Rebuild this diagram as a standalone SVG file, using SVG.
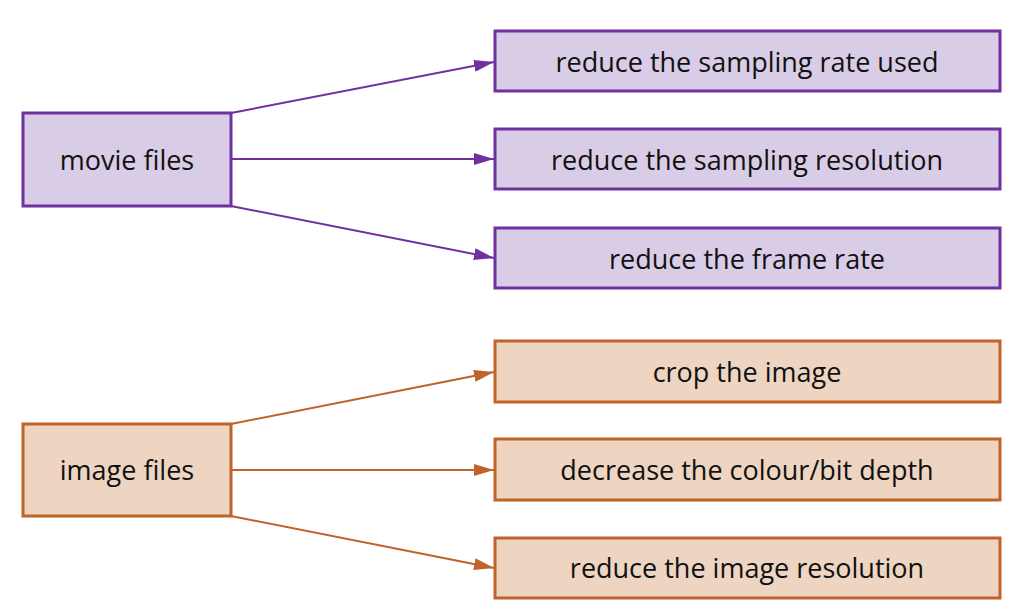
<svg xmlns="http://www.w3.org/2000/svg" width="1016" height="616" viewBox="0 0 1016 616">
<style>
text{font-family:"Open Sans","Noto Sans",sans-serif;font-size:27px;fill:#111;text-anchor:middle;dominant-baseline:central}
.p rect{fill:#d9cce6;stroke:#7030a0;stroke-width:3}
.o rect{fill:#edd5c2;stroke:#c0622a;stroke-width:3}
.cp{stroke:#7030a0;stroke-width:2;fill:none;marker-end:url(#ap)}
.co{stroke:#c0622a;stroke-width:2;fill:none;marker-end:url(#ao)}
</style>
<defs>
<marker id="ap" markerWidth="20" markerHeight="12" refX="20" refY="6" orient="auto" markerUnits="userSpaceOnUse"><path d="M0,0 L20,6 L0,12 Z" fill="#7030a0"/></marker>
<marker id="ao" markerWidth="20" markerHeight="12" refX="20" refY="6" orient="auto" markerUnits="userSpaceOnUse"><path d="M0,0 L20,6 L0,12 Z" fill="#c0622a"/></marker>
</defs>
<rect width="1016" height="616" fill="#fff"/>
<g id="connectors">
<line class="cp" x1="231" y1="113" x2="494" y2="62"/>
<line class="cp" x1="231" y1="159" x2="494" y2="159"/>
<line class="cp" x1="231" y1="206" x2="494" y2="258"/>
<line class="co" x1="231" y1="424" x2="494" y2="372"/>
<line class="co" x1="231" y1="470" x2="494" y2="470"/>
<line class="co" x1="231" y1="516" x2="494" y2="568"/>
</g>
<g id="movie-files" class="p"><rect x="23" y="113" width="208" height="93"/><text x="127" y="159">movie files</text></g>
<g id="sampling-rate" class="p"><rect x="495" y="31" width="505" height="60"/><text x="747" y="61">reduce the sampling rate used</text></g>
<g id="sampling-resolution" class="p"><rect x="495" y="129" width="505" height="60"/><text x="747" y="159">reduce the sampling resolution</text></g>
<g id="frame-rate" class="p"><rect x="495" y="228" width="505" height="60"/><text x="747" y="258">reduce the frame rate</text></g>
<g id="image-files" class="o"><rect x="23" y="424" width="208" height="92"/><text x="127" y="469">image files</text></g>
<g id="crop" class="o"><rect x="495" y="341" width="505" height="61"/><text x="747" y="371">crop the image</text></g>
<g id="colour-depth" class="o"><rect x="495" y="439" width="505" height="61"/><text x="747" y="469">decrease the colour/bit depth</text></g>
<g id="image-resolution" class="o"><rect x="495" y="538" width="505" height="60"/><text x="747" y="567">reduce the image resolution</text></g>
</svg>
